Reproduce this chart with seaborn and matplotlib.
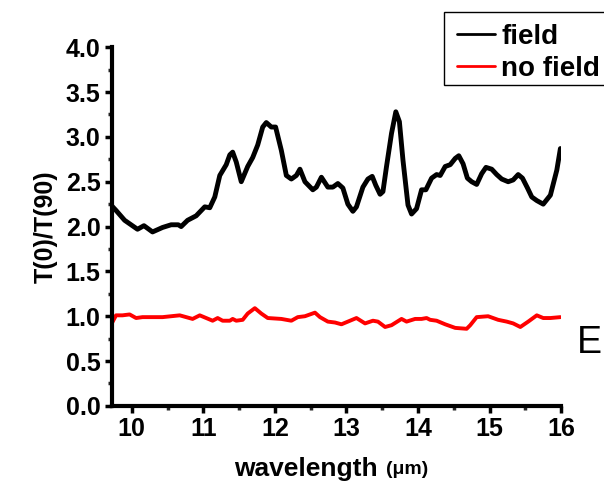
import numpy as np
import pandas as pd
import matplotlib
matplotlib.use("Agg")
import matplotlib.pyplot as plt
import seaborn as sns
from matplotlib.patches import Rectangle
from matplotlib.ticker import MultipleLocator

# Polarization ratio spectra with and without applied field
field_wl = [9.70, 9.71, 9.78, 9.90, 10.08, 10.17, 10.29, 10.43, 10.55, 10.65, 10.69, 10.78,
            10.90, 11.02, 11.09, 11.16, 11.23, 11.32, 11.37, 11.41, 11.46, 11.53, 11.62,
            11.69, 11.76, 11.83, 11.88, 11.95, 12.01, 12.09, 12.16, 12.23, 12.30, 12.35,
            12.42, 12.53, 12.58, 12.65, 12.74, 12.81, 12.88, 12.95, 13.02, 13.09, 13.14,
            13.23, 13.30, 13.36, 13.41, 13.47, 13.51, 13.56, 13.63, 13.69, 13.74, 13.79,
            13.86, 13.91, 13.98, 14.05, 14.11, 14.19, 14.26, 14.31, 14.38, 14.45, 14.52,
            14.57, 14.63, 14.69, 14.75, 14.82, 14.89, 14.95, 15.03, 15.10, 15.17, 15.26,
            15.33, 15.40, 15.46, 15.53, 15.59, 15.66, 15.75, 15.85, 15.94, 15.99]
field_ratio = [2.50, 2.24, 2.18, 2.07, 1.97, 2.01, 1.94, 1.99, 2.02, 2.02, 2.00, 2.07,
               2.12, 2.22, 2.21, 2.33, 2.57, 2.69, 2.80, 2.83, 2.72, 2.50, 2.67,
               2.77, 2.91, 3.11, 3.16, 3.11, 3.11, 2.85, 2.57, 2.53, 2.57, 2.64,
               2.50, 2.41, 2.44, 2.55, 2.44, 2.44, 2.48, 2.43, 2.25, 2.17, 2.22,
               2.44, 2.53, 2.56, 2.46, 2.36, 2.39, 2.67, 3.04, 3.28, 3.17, 2.74,
               2.24, 2.14, 2.20, 2.41, 2.41, 2.54, 2.58, 2.57, 2.67, 2.69, 2.76,
               2.79, 2.70, 2.54, 2.50, 2.47, 2.59, 2.66, 2.64, 2.58, 2.53, 2.50,
               2.52, 2.58, 2.54, 2.43, 2.33, 2.29, 2.25, 2.35, 2.63, 2.87]

nofield_wl = [9.72, 9.78, 9.87, 9.97, 10.06, 10.15, 10.29, 10.43, 10.67, 10.85, 10.95,
              11.13, 11.20, 11.27, 11.37, 11.41, 11.46, 11.55, 11.62, 11.72, 11.81, 11.90,
              12.09, 12.23, 12.32, 12.42, 12.56, 12.63, 12.74, 12.84, 12.93, 13.02, 13.14,
              13.26, 13.37, 13.44, 13.54, 13.63, 13.77, 13.84, 13.96, 14.05, 14.12, 14.17,
              14.26, 14.38, 14.52, 14.68, 14.73, 14.82, 14.98, 15.12, 15.24, 15.33, 15.43,
              15.54, 15.66, 15.75, 15.85, 15.99]
nofield_ratio = [0.92, 1.01, 1.01, 1.02, 0.98, 0.99, 0.99, 0.99, 1.01, 0.97, 1.01,
                 0.95, 0.98, 0.95, 0.95, 0.97, 0.95, 0.96, 1.03, 1.09, 1.03, 0.98,
                 0.97, 0.95, 0.99, 1.00, 1.04, 0.99, 0.94, 0.93, 0.91, 0.94, 0.98,
                 0.92, 0.95, 0.94, 0.88, 0.90, 0.97, 0.94, 0.97, 0.97, 0.98, 0.96,
                 0.95, 0.91, 0.87, 0.86, 0.90, 0.99, 1.00, 0.96, 0.94, 0.92, 0.88,
                 0.94, 1.01, 0.98, 0.98, 0.99]

series_names = ["field", "no field"]
series_colors = ["black", "red"]

df = pd.concat([
    pd.DataFrame({"wavelength": field_wl, "ratio": field_ratio, "series": series_names[0]}),
    pd.DataFrame({"wavelength": nofield_wl, "ratio": nofield_ratio, "series": series_names[1]}),
], ignore_index=True)

sns.set_theme(style="ticks")
plt.rcParams["font.family"] = ["Liberation Sans", "DejaVu Sans"]
plt.rcParams["font.weight"] = "bold"
plt.rcParams["text.color"] = "black"
plt.rcParams["axes.labelcolor"] = "black"

W, H = 604, 492
fig = plt.figure(figsize=(W / 100, H / 100), dpi=100)
ax = fig.add_axes([0.185, 0.175, 0.744, 0.729])

sns.lineplot(data=df, x="wavelength", y="ratio", hue="series", palette=series_colors,
             hue_order=series_names, sort=False, estimator=None, ax=ax, legend=False)
lines = ax.get_lines()
lines[0].set_linewidth(3.5)
lines[1].set_linewidth(2.8)

ax.set_xlim(9.72, 16.0)
ax.set_ylim(0.0, 4.0)
ax.xaxis.set_major_locator(MultipleLocator(1))
ax.xaxis.set_minor_locator(MultipleLocator(0.5))
ax.yaxis.set_minor_locator(MultipleLocator(0.25))
yt = np.arange(0, 4.01, 0.5)
ax.set_yticks(yt)
ax.set_yticklabels([f"{v:.1f}" for v in yt])

for side in ["top", "right"]:
    ax.spines[side].set_visible(False)
for side in ["left", "bottom"]:
    ax.spines[side].set_linewidth(3.0)
    ax.spines[side].set_color("black")

ax.tick_params(axis="both", which="major", length=5, width=2.5, labelsize=18,
               colors="black", pad=3, direction="out")
ax.tick_params(axis="both", which="minor", length=3, width=2.5, direction="out")
for lbl in ax.get_xticklabels() + ax.get_yticklabels():
    lbl.set_fontweight("bold")

ax.set_xlabel("")
ax.set_ylabel("T(0)/T(90)", fontsize=18, fontweight="bold", labelpad=6)

# x-axis title with a smaller unit part
fig.text(385 / W, 1 - 469 / H, "wavelength ", ha="right", va="center",
         fontsize=19, fontweight="bold")
fig.text(386 / W, 1 - 470 / H, "(\u03bcm)", ha="left", va="center",
         fontsize=14, fontweight="bold")

fig.text(589 / W, 1 - 343 / H, "E", ha="center", va="center", fontsize=27,
         fontweight="normal")

# legend box, running off the right edge of the figure
fig.patches.append(Rectangle((444 / W, 1 - 85 / H), 200 / W, 73 / H,
                             transform=fig.transFigure, facecolor="white",
                             edgecolor="black", linewidth=1.0, zorder=5))

handles = [plt.Line2D([], [], color=c, lw=2.0) for c in series_colors]
leg = fig.legend(handles, series_names, loc="upper left",
                 bbox_to_anchor=(457 / W, 1 - 24 / H), frameon=False,
                 fontsize=20, handlelength=1.35, handletextpad=0.25,
                 borderpad=0, labelspacing=0.22, borderaxespad=0)
leg.set_zorder(6)
for t in leg.get_texts():
    t.set_fontweight("bold")

fig.savefig("out.png", dpi=100)
